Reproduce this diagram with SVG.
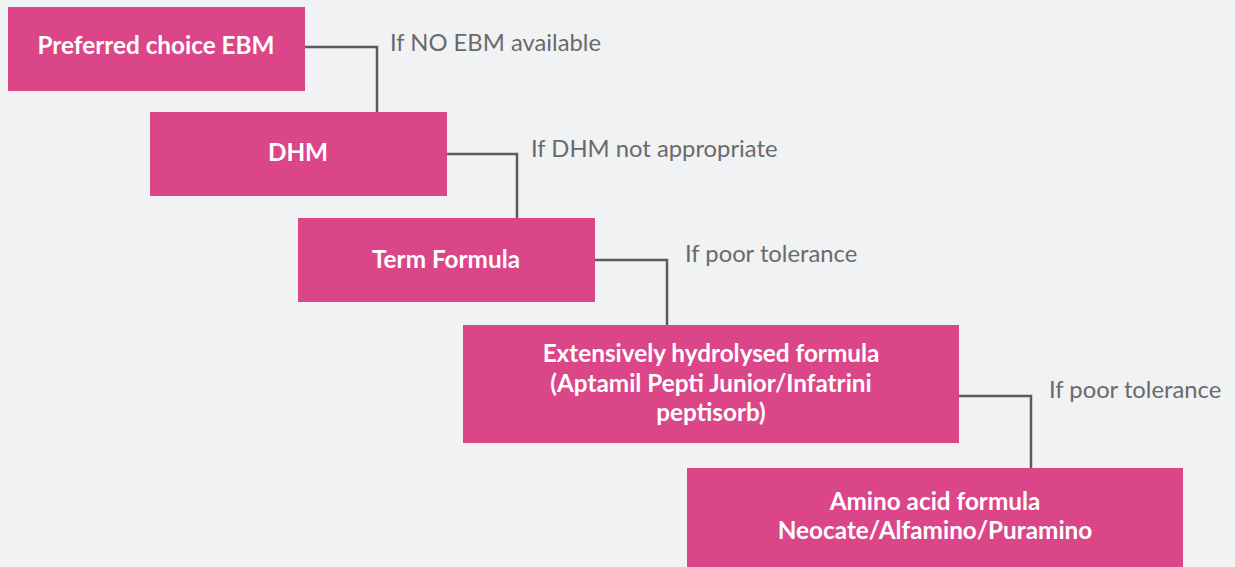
<svg xmlns="http://www.w3.org/2000/svg" width="1235" height="567" viewBox="0 0 1235 567">
<style>
.box{fill:#DB4688;}
.t{font-family:Lato,"Open Sans",sans-serif;font-weight:bold;font-size:24.3px;fill:#ffffff;text-anchor:middle;}
.lbl{font-family:Lato,"Open Sans",sans-serif;font-size:23.8px;fill:#6a6a6a;}
.c{fill:none;stroke:#5b5b5b;stroke-width:2.5;}
</style>
<rect width="1235" height="567" fill="#F1F2F4"/>
<g id="connectors">
<polyline class="c" points="305,47 377,47 377,112"/>
<polyline class="c" points="447,154 517,154 517,218"/>
<polyline class="c" points="595,260 667,260 667,325"/>
<polyline class="c" points="959,396 1031,396 1031,468"/>
</g>
<g id="labels">
<text class="lbl" x="390" y="51">If NO EBM available</text>
<text class="lbl" x="531" y="157">If DHM not appropriate</text>
<text class="lbl" x="685" y="262">If poor tolerance</text>
<text class="lbl" x="1049" y="398">If poor tolerance</text>
</g>
<g id="n1"><rect class="box" x="8" y="7" width="297" height="84"/><text class="t" x="156" y="54">Preferred choice EBM</text></g>
<g id="n2"><rect class="box" x="150" y="112" width="297" height="84"/><text class="t" x="298" y="161">DHM</text></g>
<g id="n3"><rect class="box" x="298" y="218" width="297" height="84"/><text class="t" x="446" y="268">Term Formula</text></g>
<g id="n4"><rect class="box" x="463" y="325" width="496" height="118"/>
<text class="t" x="711" y="362">Extensively hydrolysed formula</text>
<text class="t" x="711" y="392">(Aptamil Pepti Junior/Infatrini</text>
<text class="t" x="711" y="421">peptisorb)</text></g>
<g id="n5"><rect class="box" x="687" y="468" width="496" height="110"/>
<text class="t" x="935" y="510">Amino acid formula</text>
<text class="t" x="935" y="539">Neocate/Alfamino/Puramino</text></g>
</svg>
